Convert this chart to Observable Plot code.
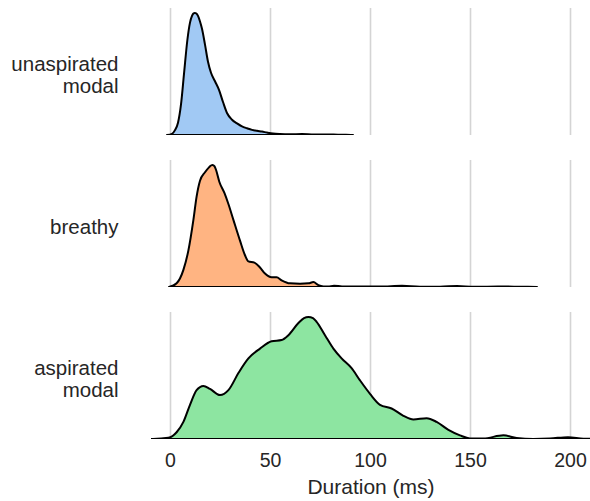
<!DOCTYPE html>
<html>
<head>
<meta charset="utf-8">
<script src="https://cdn.jsdelivr.net/npm/d3@7"></script>
<script src="https://cdn.jsdelivr.net/npm/@observablehq/plot@0.6"></script>
<style>
  html, body { margin: 0; padding: 0; background: #fff; }
  #chart svg { display: block; }
</style>
</head>
<body>
<div id="chart"></div>
<script>
// Categories (rows, top to bottom) and their fill colours
const groups = ["unaspirated modal", "breathy", "aspirated modal"];
const groupColors = ["#a1c9f4", "#ffb482", "#8de5a1"];

// x tick values / labels
const xTicks = [0, 50, 100, 150, 200];
const xLabel = "Duration (ms)";

// Density curves (relative height, each row scaled to its own maximum)
const unaspX = [-1.5, 1, 2.5, 4, 5.5, 7, 8.7, 10, 11, 11.7, 12.4, 13.2, 14, 15, 16, 17.5, 19, 20.5, 22.5, 24.5, 26.5, 28.5, 31, 33.5, 36, 38.5, 41, 43.5, 46, 48.5, 51.5, 55, 60, 66, 72, 78, 84, 88, 91.5];
const unaspH = [0, 0.01, 0.04, 0.1, 0.25, 0.5, 0.78, 0.92, 0.975, 0.995, 1.0, 0.995, 0.975, 0.93, 0.87, 0.74, 0.6, 0.51, 0.44, 0.37, 0.27, 0.18, 0.125, 0.095, 0.07, 0.055, 0.042, 0.034, 0.028, 0.02, 0.012, 0.008, 0.006, 0.008, 0.004, 0.005, 0.003, 0.002, 0];

const breathyX = [-0.5, 3.3, 6.7, 9.2, 11.7, 13.3, 15, 17.5, 19.5, 20.5, 21.3, 22.2, 23, 24.7, 27.2, 29.2, 31.7, 35, 37.5, 39.2, 42.2, 45, 47.5, 50.8, 53.3, 55.8, 60, 65, 69.2, 71.7, 74.2, 76.7, 79, 82, 86, 95, 105, 116, 125, 135, 143.5, 152, 165, 175, 183.5];
const breathyH = [0, 0.03, 0.14, 0.3, 0.55, 0.74, 0.87, 0.94, 0.98, 0.995, 1.0, 0.99, 0.96, 0.86, 0.77, 0.68, 0.55, 0.38, 0.26, 0.21, 0.2, 0.16, 0.11, 0.08, 0.08, 0.055, 0.03, 0.027, 0.03, 0.04, 0.015, 0.005, 0.004, 0.01, 0.005, 0.004, 0.004, 0.01, 0.003, 0.003, 0.008, 0.002, 0.004, 0.002, 0];

const aspX = [-16, -8.5, -0.8, 3.3, 6.7, 10, 13.3, 16.7, 20, 25, 29.2, 34.2, 39.2, 45, 50.8, 55.8, 59.2, 64.2, 67, 69.2, 71.5, 73.3, 77.5, 81.7, 85.8, 90.8, 95, 100, 105, 110.8, 116.7, 121.7, 128.3, 133.3, 139.2, 145, 150, 156.7, 166.7, 173.3, 181.7, 190, 199, 206.7, 216];
const aspH = [0, 0.001, 0.01, 0.055, 0.14, 0.28, 0.4, 0.435, 0.41, 0.36, 0.4, 0.54, 0.66, 0.74, 0.8, 0.81, 0.85, 0.95, 0.99, 1.0, 0.99, 0.96, 0.85, 0.74, 0.66, 0.58, 0.48, 0.37, 0.28, 0.25, 0.19, 0.16, 0.17, 0.14, 0.075, 0.03, 0.005, 0.005, 0.03, 0.008, 0.001, 0.004, 0.015, 0.003, 0];

const series = [
  {group: groups[0], xs: unaspX, hs: unaspH},
  {group: groups[1], xs: breathyX, hs: breathyH},
  {group: groups[2], xs: aspX, hs: aspH}
];
const rows = series.flatMap(s => s.xs.map((x, i) => ({group: s.group, x, h: s.hs[i]})));

const chart = Plot.plot({
  width: 590,
  height: 501,
  marginTop: 8,
  marginBottom: 61,
  marginLeft: 151,
  marginRight: 0,
  style: {fontFamily: "'Liberation Sans', Arial, sans-serif", color: "#262626", background: "#fff"},
  x: {domain: [-9.5, 210], ticks: xTicks, axis: null},
  y: {domain: [0, 1.04], axis: null},
  fy: {domain: groups, padding: 0.164, axis: null},
  color: {domain: groups, range: groupColors},
  marks: [
    Plot.ruleX(xTicks, {stroke: "#d4d4d4", strokeWidth: 1.6}),
    Plot.areaY(rows, {x: "x", y: "h", fy: "group", z: "group", fill: "group", fillOpacity: 1, stroke: "#000", strokeWidth: 2, curve: "monotone-x", clip: true}),
    Plot.axisX(xTicks, {anchor: "bottom", tickSize: 0, tickPadding: 14, fontSize: 19.5, label: null, fill: "#262626"}),
    Plot.text([xLabel], {fy: [groups[2]], frameAnchor: "bottom", lineAnchor: "bottom", dy: 54, fontSize: 21, fill: "#262626"}),
    Plot.axisFy({anchor: "left", tickSize: 0, tickPadding: 33, dy: 2.5, fontSize: 20.5, lineHeight: 1.08, label: null, fill: "#262626", tickFormat: d => d.replace(" ", "\n")})
  ]
});
document.getElementById("chart").appendChild(chart);
</script>
</body>
</html>
